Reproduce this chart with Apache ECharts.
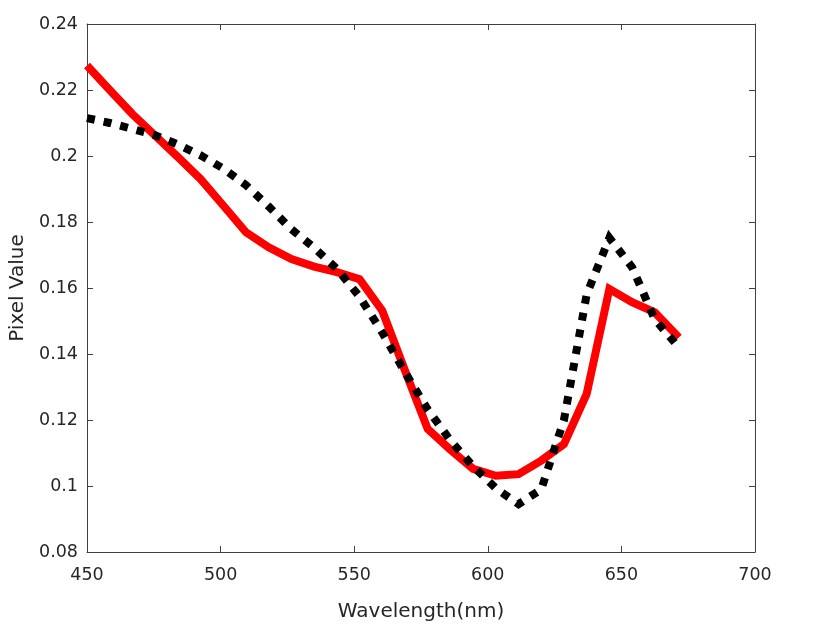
<!DOCTYPE html>
<html><head><meta charset="utf-8">
<script src="https://cdn.jsdelivr.net/npm/echarts@6/dist/echarts.min.js"></script>
<style>html,body{margin:0;padding:0;background:#fff}#c{width:829px;height:627px}</style>
</head><body><div id="c"></div>
<script>
const wavelengths = [450, 458.5, 467, 475.5, 484, 492.5, 501, 509.5, 518, 526.5, 535, 543.5, 552, 560.5, 569, 577.5, 586, 594.5, 603, 611.5, 620, 628.5, 637, 645.5, 654, 662.5, 671.5];
const redValues = [0.2274, 0.2200, 0.2127, 0.2062, 0.1997, 0.1930, 0.1850, 0.1769, 0.1723, 0.1688, 0.1665, 0.1648, 0.1627, 0.1531, 0.1350, 0.1173, 0.1110, 0.1052, 0.1031, 0.1036, 0.1077, 0.1127, 0.1279, 0.1597, 0.1557, 0.1526, 0.1450];
const blackValues = [0.2115, 0.2100, 0.2082, 0.2063, 0.2035, 0.2002, 0.1962, 0.1912, 0.1847, 0.1778, 0.1722, 0.1658, 0.1574, 0.1465, 0.1345, 0.1232, 0.1138, 0.1060, 0.0993, 0.0945, 0.0990, 0.1200, 0.1580, 0.1752, 0.1663, 0.1505, 0.1420];
const xTicks = [450, 500, 550, 600, 650, 700];
const yTicks = [0.08, 0.1, 0.12, 0.14, 0.16, 0.18, 0.2, 0.22, 0.24];

const axisColor = '#404040';
const textColor = '#262626';
const font = 'DejaVu Sans, sans-serif';

const chart = echarts.init(document.getElementById('c'), null, {renderer: 'canvas'});
const pair = (vals) => wavelengths.map((w, i) => [w, vals[i]]);
const commonLine = {show: true, onZero: false, lineStyle: {color: axisColor, width: 1}};
const commonTick = {show: true, inside: true, length: 6, lineStyle: {color: axisColor, width: 1}};

chart.setOption({
  animation: false,
  backgroundColor: '#fff',
  grid: {left: 86, right: 74, top: 24, bottom: 74, containLabel: false},
  xAxis: [{
    type: 'value', min: xTicks[0], max: xTicks[xTicks.length - 1], interval: 50,
    position: 'bottom',
    name: 'Wavelength(nm)', nameLocation: 'middle', nameGap: 50,
    nameTextStyle: {color: textColor, fontSize: 20, fontFamily: font},
    axisLine: commonLine, axisTick: commonTick,
    axisLabel: {color: textColor, fontSize: 17.5, fontFamily: font, margin: 14},
    splitLine: {show: false}
  }, {
    type: 'value', min: xTicks[0], max: xTicks[xTicks.length - 1], interval: 50,
    position: 'top',
    axisLine: commonLine, axisTick: commonTick,
    axisLabel: {show: false}, splitLine: {show: false}
  }],
  yAxis: [{
    type: 'value', min: yTicks[0], max: yTicks[yTicks.length - 1], interval: 0.02,
    position: 'left',
    name: 'Pixel Value', nameLocation: 'middle', nameGap: 59, nameRotate: 90,
    nameTextStyle: {color: textColor, fontSize: 20, fontFamily: font},
    axisLine: commonLine, axisTick: commonTick,
    axisLabel: {color: textColor, fontSize: 17.5, fontFamily: font, margin: 9,
      formatter: (v) => String(parseFloat(v.toFixed(2)))},
    splitLine: {show: false}
  }, {
    type: 'value', min: yTicks[0], max: yTicks[yTicks.length - 1], interval: 0.02,
    position: 'right',
    axisLine: commonLine, axisTick: commonTick,
    axisLabel: {show: false}, splitLine: {show: false}
  }],
  series: [{
    type: 'line', name: 'red', data: pair(redValues), showSymbol: false, symbol: 'none',
    lineStyle: {color: '#ff0000', width: 8, cap: 'butt', join: 'miter'}, z: 2
  }, {
    type: 'line', name: 'black', data: pair(blackValues), showSymbol: false, symbol: 'none',
    lineStyle: {color: '#000000', width: 8, type: [8, 9], cap: 'butt', join: 'miter'}, z: 3
  }]
});
</script></body></html>
